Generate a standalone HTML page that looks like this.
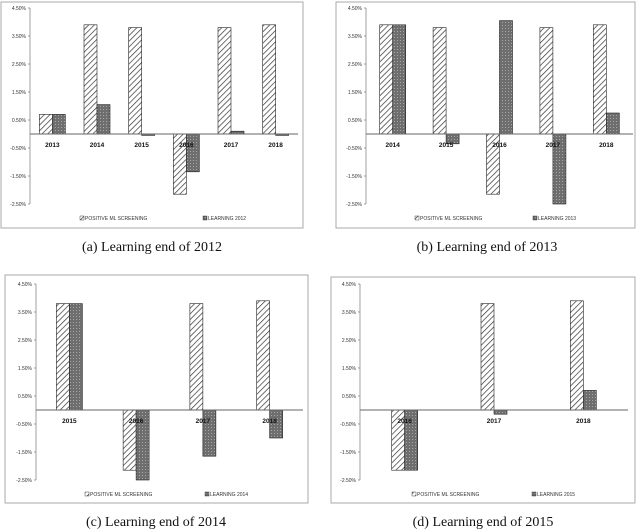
<!DOCTYPE html>
<html><head><meta charset="utf-8"><style>
html,body{margin:0;padding:0;background:#fff;width:640px;height:530px;overflow:hidden}
svg{display:block}
</style></head><body>
<svg id="fig" width="640" height="530" xmlns="http://www.w3.org/2000/svg">
<defs>
<pattern id="hatch" patternUnits="userSpaceOnUse" width="4" height="4" patternTransform="rotate(45)">
<rect width="4" height="4" fill="#fff"/><line x1="0" y1="0" x2="0" y2="4" stroke="#333" stroke-width="1.4"/>
</pattern>
<pattern id="dots" patternUnits="userSpaceOnUse" width="3" height="3">
<rect width="3" height="3" fill="#6e6e6e"/><rect x="1" y="1" width="1" height="1" fill="#a8a8a8"/>
</pattern>
</defs>
</svg>
<script>
var tickLabels = ["4.50%","3.50%","2.50%","1.50%","0.50%","-0.50%","-1.50%","-2.50%"];
var tickValues = [4.5,3.5,2.5,1.5,0.5,-0.5,-1.5,-2.5];
var catsA = ["2013","2014","2015","2016","2017","2018"];
var posA = [0.7,3.9,3.8,-2.15,3.8,3.9];
var learnA = [0.7,1.05,-0.05,-1.35,0.1,-0.05];
var catsB = ["2014","2015","2016","2017","2018"];
var posB = [3.9,3.8,-2.15,3.8,3.9];
var learnB = [3.9,-0.35,4.05,-2.5,0.75];
var catsC = ["2015","2016","2017","2018"];
var posC = [3.8,-2.15,3.8,3.9];
var learnC = [3.8,-2.5,-1.65,-1.0];
var catsD = ["2016","2017","2018"];
var posD = [-2.15,3.8,3.9];
var learnD = [-2.15,-0.15,0.7];

var NS = "http://www.w3.org/2000/svg";
var svg = document.getElementById("fig");
function mk(tag, attrs, parent, text) {
  var e = document.createElementNS(NS, tag);
  for (var k in attrs) e.setAttribute(k, attrs[k]);
  if (text !== undefined) e.textContent = text;
  parent.appendChild(e);
  return e;
}
function panel(id, cfg, cats, pos, learn, learnName, caption) {
  var g = mk("g", {}, svg);
  
  
  var fr = mk("rect", {x: cfg.fx, y: cfg.fy, width: cfg.fw, height: cfg.fh, fill: "#fff", stroke: "#aaa", "stroke-width": 1}, g);
  
  
  var unit = cfg.unit;
  function y(v) { return cfg.zero - v * unit; }
  var bw = (cfg.x1 - cfg.x0) / cats.length;
  function xc(i) { return cfg.x0 + bw * (i + 0.5); }
  var yax = mk("line", {x1: cfg.x0, y1: y(4.5), x2: cfg.x0, y2: y(-2.5), stroke: "#888", "stroke-width": 0.8}, g);
  
  
  for (var t = 0; t < tickValues.length; t++) {
    mk("line", {x1: cfg.x0 - 2, y1: y(tickValues[t]), x2: cfg.x0, y2: y(tickValues[t]), stroke: "#888", "stroke-width": 0.8}, g);
    var tl = mk("text", {x: cfg.x0 - 4, y: y(tickValues[t]) + 2, "font-size": 5, "text-anchor": "end", fill: "#333", "font-family": "Liberation Sans, sans-serif"}, g, tickLabels[t]);
    
    
  }
  var barW = 13;
  for (var i = 0; i < cats.length; i++) {
    var v1 = pos[i], v2 = learn[i];
    var b1 = mk("rect", {x: xc(i) - barW, y: Math.min(y(0), y(v1)), width: barW, height: Math.abs(v1 * unit), fill: "url(#hatch)", stroke: "#222", "stroke-width": 0.6}, g);
    
    
    var b2 = mk("rect", {x: xc(i), y: Math.min(y(0), y(v2)), width: barW, height: Math.abs(v2 * unit), fill: "url(#dots)", stroke: "#222", "stroke-width": 0.6}, g);
    
    
  }
  var xax = mk("line", {x1: cfg.x0, y1: y(0), x2: cfg.x1, y2: y(0), stroke: "#666", "stroke-width": 1}, g);
  
  
  for (var i = 0; i < cats.length; i++) {
    var cl = mk("text", {x: xc(i), y: y(0) + 13, "font-size": 6.5, "font-weight": "bold", "text-anchor": "middle", fill: "#111", "font-family": "Liberation Sans, sans-serif"}, g, cats[i]);
    
    
  }
  var lg = mk("g", {}, g);
  
  
  mk("rect", {x: cfg.l1, y: cfg.ly - 4, width: 4, height: 4, fill: "url(#hatch)", stroke: "#222", "stroke-width": 0.4}, lg);
  var t1 = mk("text", {x: cfg.l1 + 5, y: cfg.ly, "font-size": 5, fill: "#333", "font-family": "Liberation Sans, sans-serif"}, lg, "POSITIVE ML SCREENING");
  
  
  mk("rect", {x: cfg.l2, y: cfg.ly - 4, width: 4, height: 4, fill: "url(#dots)", stroke: "#222", "stroke-width": 0.4}, lg);
  var t2 = mk("text", {x: cfg.l2 + 5, y: cfg.ly, "font-size": 5, fill: "#333", "font-family": "Liberation Sans, sans-serif"}, lg, learnName);
  
  
  var cap = mk("text", {x: cfg.cx, y: cfg.cy, "font-size": 14, "text-anchor": "middle", fill: "#111", "font-family": "Liberation Serif, serif"}, svg, caption);
  
  
}
panel("a", {fx: 1, fy: 2, fw: 302, fh: 226, x0: 30, x1: 298, zero: 134, unit: 28, l1: 80, l2: 203, ly: 220, cx: 152, cy: 251}, catsA, posA, learnA, "LEARNING 2012", "(a) Learning end of 2012");
panel("b", {fx: 336, fy: 2, fw: 299, fh: 226, x0: 366, x1: 633, zero: 134, unit: 28, l1: 415, l2: 533, ly: 220, cx: 487, cy: 251}, catsB, posB, learnB, "LEARNING 2013", "(b) Learning end of 2013");
panel("c", {fx: 5, fy: 275, fw: 303, fh: 228, x0: 36, x1: 303, zero: 410, unit: 28, l1: 85, l2: 205, ly: 496, cx: 156, cy: 526}, catsC, posC, learnC, "LEARNING 2014", "(c) Learning end of 2014");
panel("d", {fx: 331, fy: 277, fw: 304, fh: 226, x0: 360, x1: 628, zero: 410, unit: 28, l1: 412, l2: 532, ly: 496, cx: 483, cy: 526}, catsD, posD, learnD, "LEARNING 2015", "(d) Learning end of 2015");
</script>
</body></html>
